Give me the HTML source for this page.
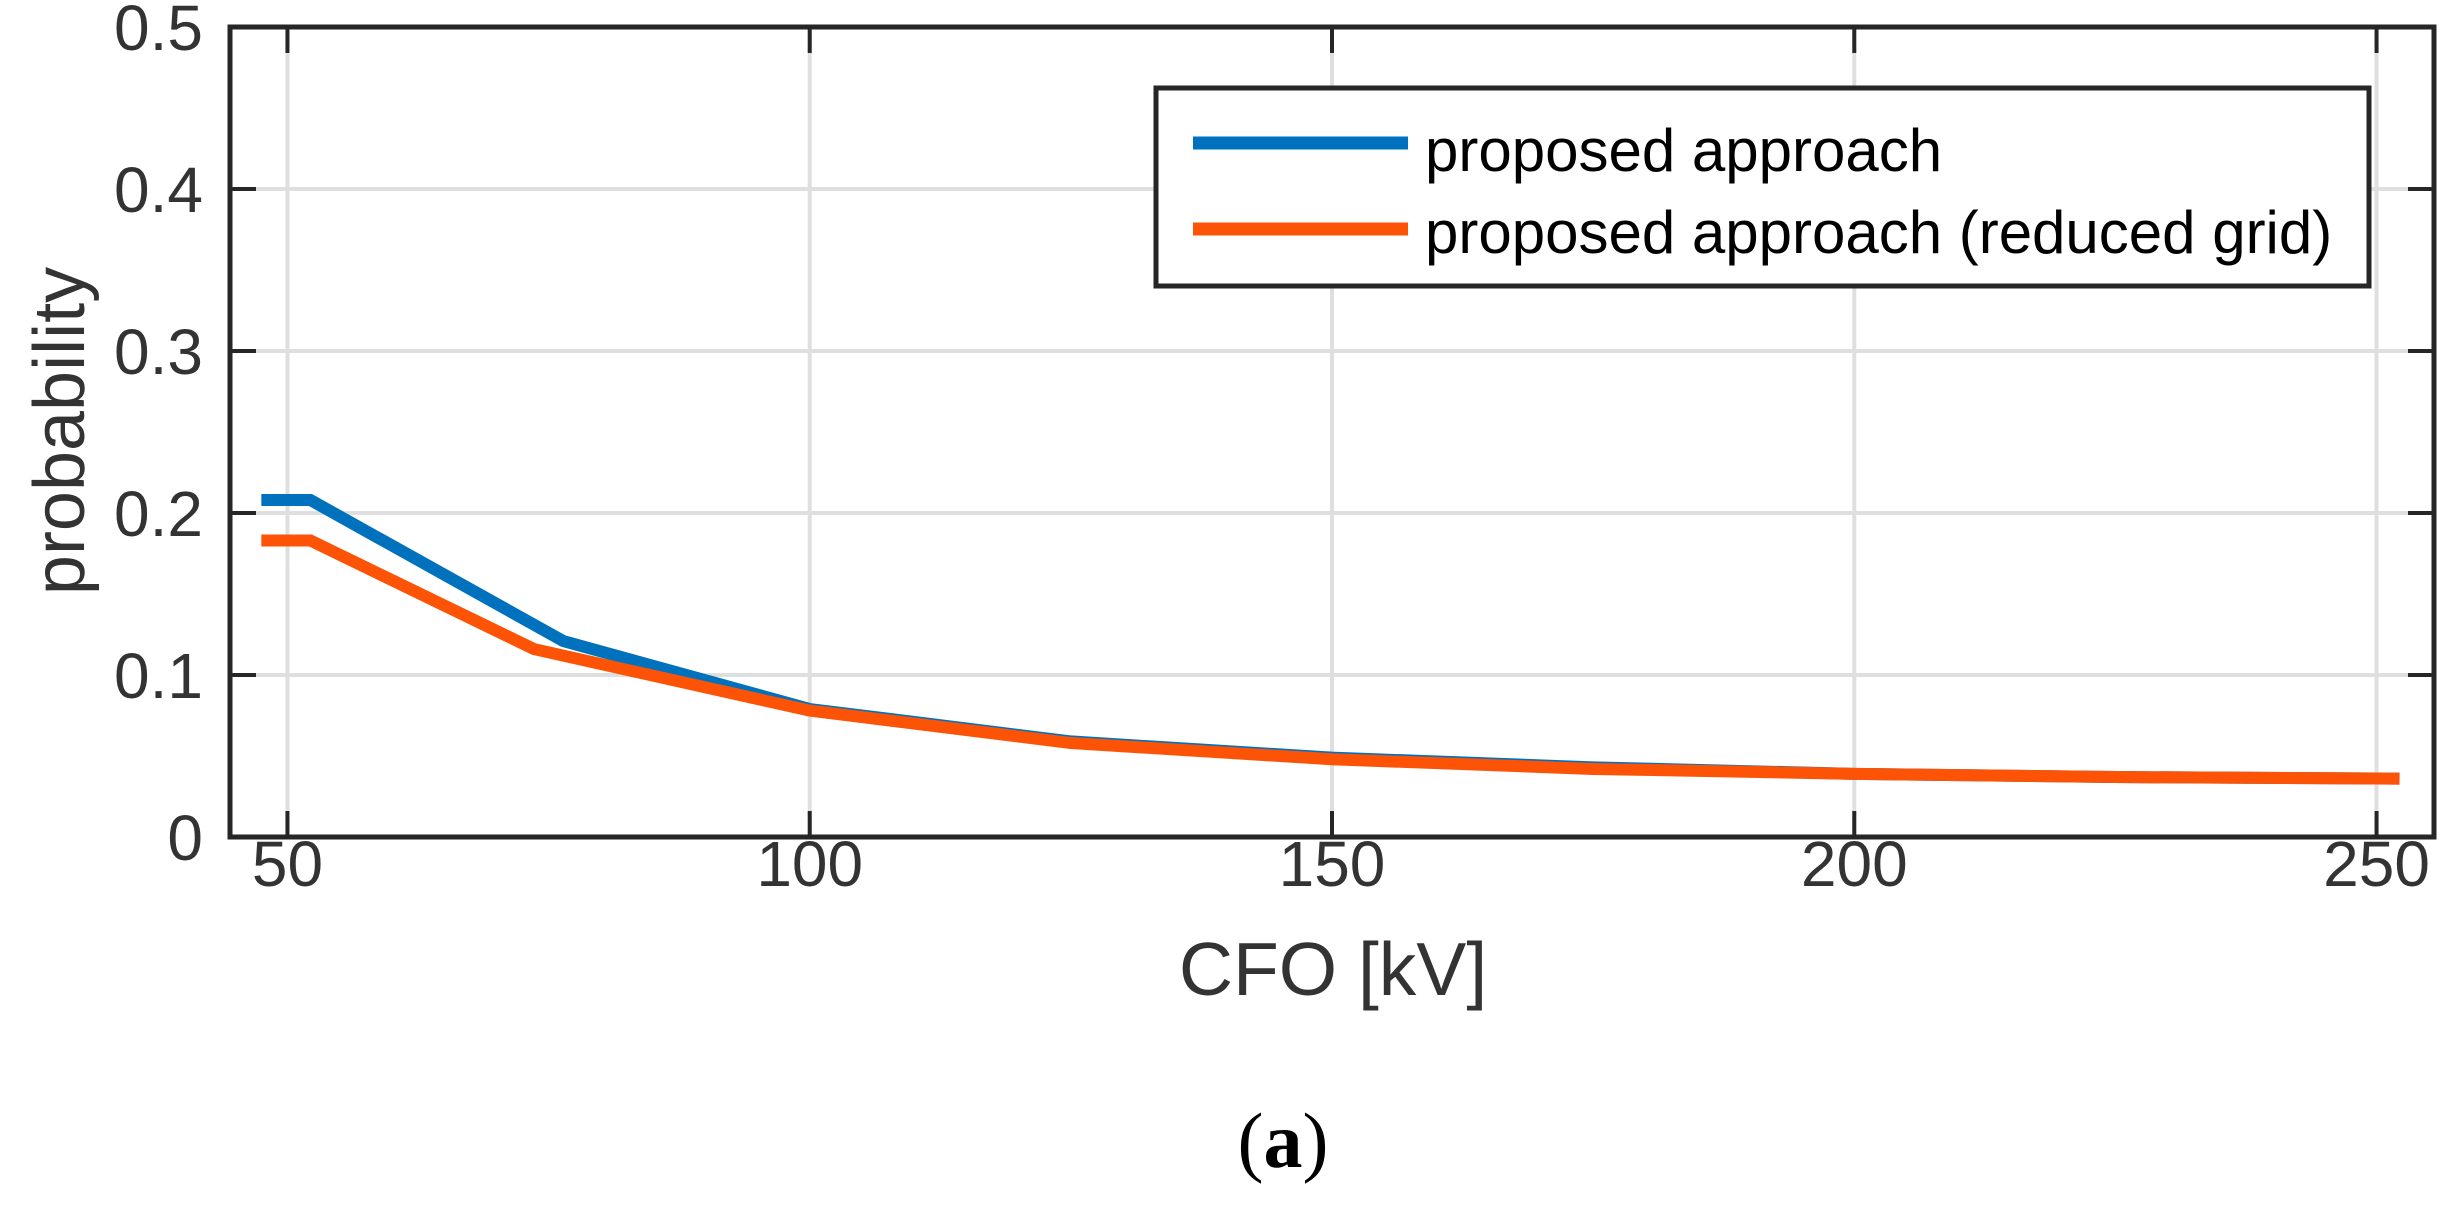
<!DOCTYPE html>
<html><head><meta charset="utf-8"><style>html,body{margin:0;padding:0;background:#fff}svg{display:block}</style></head>
<body>
<svg id="chart" width="2451" height="1209" viewBox="0 0 2451 1209" xmlns="http://www.w3.org/2000/svg" font-family="Liberation Sans, sans-serif">
<g id="grid"></g>
<g id="series"></g>
<g id="axes"></g>
<g id="ticklabels"></g>
<text x="0" y="0" transform="translate(84,431) rotate(-90)" text-anchor="middle" font-size="72" fill="#333">probability</text>
<text x="1333" y="995" text-anchor="middle" font-size="75" fill="#333">CFO [kV]</text>
<text x="1283" y="1167" text-anchor="middle" font-size="78" font-family="Liberation Serif, serif" fill="#000">(<tspan font-weight="bold">a</tspan>)</text>
<g>
  <rect x="1156" y="88" width="1213" height="198" fill="#fff" stroke="#262626" stroke-width="5"/>
  <line x1="1193" y1="143" x2="1408" y2="143" stroke="#0072BD" stroke-width="13"/>
  <text x="1425" y="171" font-size="60" fill="#000">proposed approach</text>
  <line x1="1193" y1="229" x2="1408" y2="229" stroke="#FC5307" stroke-width="13"/>
  <text x="1425" y="253" font-size="60" fill="#000">proposed approach (reduced grid)</text>
</g>
</svg>
<script>
const xTicks = [50, 100, 150, 200, 250];
const yTicks = [0, 0.1, 0.2, 0.3, 0.4, 0.5];
const yTickLabels = ["0", "0.1", "0.2", "0.3", "0.4", "0.5"];
const blueX = [47.5, 52.2, 76.4, 100, 125, 150, 175, 200, 225, 252.2];
const blueY = [0.208, 0.208, 0.121, 0.079, 0.059, 0.049, 0.043, 0.039, 0.037, 0.036];
const orangeX = [47.5, 52.2, 73.6, 100, 125, 150, 175, 200, 225, 252.2];
const orangeY = [0.183, 0.183, 0.116, 0.078, 0.058, 0.048, 0.042, 0.039, 0.037, 0.036];

const L = 230, R = 2434, T = 27, B = 837;
const xMin = 44.5, xMax = 255.5, yMin = 0, yMax = 0.5;
function sx(v){ return L + (v - xMin) / (xMax - xMin) * (R - L); }
function sy(v){ return B - (v - yMin) / (yMax - yMin) * (B - T); }
const NS = 'http://www.w3.org/2000/svg';
function mk(tag, attrs, parent){ const e = document.createElementNS(NS, tag); for (const k in attrs) e.setAttribute(k, attrs[k]); parent.appendChild(e); return e; }
const grid = document.getElementById('grid'), axes = document.getElementById('axes'), tl = document.getElementById('ticklabels'), series = document.getElementById('series');

xTicks.forEach(v => {
  const g = mk('line', {x1: sx(v), x2: sx(v), y1: T, y2: B, stroke: '#dfdfdf', 'stroke-width': 4}, grid);
  
  
  const t1 = mk('line', {x1: sx(v), x2: sx(v), y1: B, y2: B - 26, stroke: '#262626', 'stroke-width': 4}, axes);
  
  
  const t2 = mk('line', {x1: sx(v), x2: sx(v), y1: T, y2: T + 26, stroke: '#262626', 'stroke-width': 4}, axes);
  
  
  const lab = mk('text', {x: sx(v), y: 886, 'text-anchor': 'middle', 'font-size': 64, fill: '#333'}, tl);
  lab.textContent = String(v);
  
  
});
yTicks.forEach((v, i) => {
  if (v > 0 && v < 0.5) {
    const g = mk('line', {x1: L, x2: R, y1: sy(v), y2: sy(v), stroke: '#dfdfdf', 'stroke-width': 4}, grid);
    
    
  }
  const t1 = mk('line', {x1: L, x2: L + 26, y1: sy(v), y2: sy(v), stroke: '#262626', 'stroke-width': 4}, axes);
  
  
  const t2 = mk('line', {x1: R, x2: R - 26, y1: sy(v), y2: sy(v), stroke: '#262626', 'stroke-width': 4}, axes);
  
  
  const lab = mk('text', {x: 203, y: sy(v) + 23, 'text-anchor': 'end', 'font-size': 64, fill: '#333'}, tl);
  lab.textContent = yTickLabels[i];
  
  
});
const box = mk('rect', {x: L, y: T, width: R - L, height: B - T, fill: 'none', stroke: '#262626', 'stroke-width': 5}, axes);



function pts(xs, ys){ return xs.map((x, i) => sx(x) + ',' + sy(ys[i])).join(' '); }
const pb = mk('polyline', {points: pts(blueX, blueY), fill: 'none', stroke: '#0072BD', 'stroke-width': 12, 'stroke-linejoin': 'miter'}, series);


const po = mk('polyline', {points: pts(orangeX, orangeY), fill: 'none', stroke: '#FC5307', 'stroke-width': 12, 'stroke-linejoin': 'miter'}, series);


</script>
</body></html>
